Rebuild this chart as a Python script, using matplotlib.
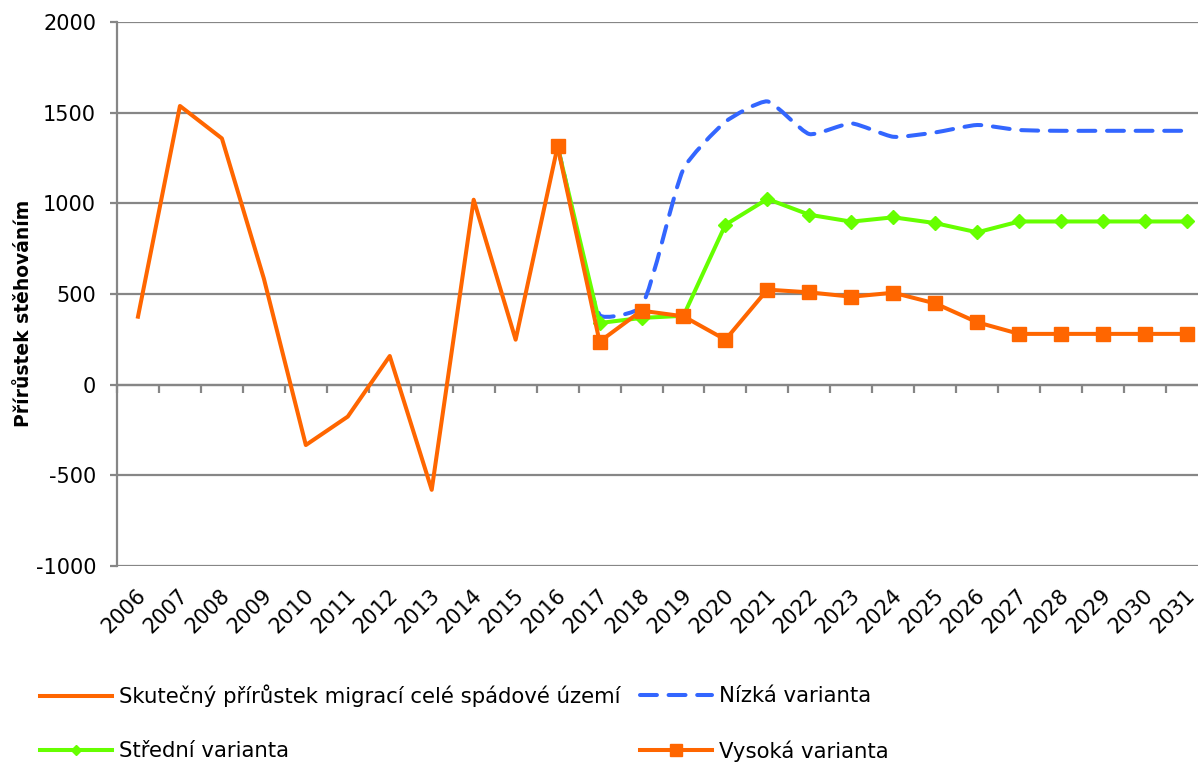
import matplotlib
matplotlib.use("Agg")
import matplotlib.pyplot as plt
import matplotlib.transforms as mtrans
from matplotlib.path import Path
from matplotlib.patches import PathPatch
from matplotlib.lines import Line2D
import numpy as np

years = [str(y) for y in range(2006, 2032)]
actual_years = years[:11]
actual = [375, 1537, 1358, 585, -333, -176, 158, -580, 1020, 248, 1314]
proj_years = years[10:]
nizka = [1314, 385, 430, 1190, 1450, 1562, 1382, 1441, 1367, 1391, 1432, 1404, 1400, 1400, 1400, 1400]
stredni = [1314, 340, 368, 380, 882, 1024, 937, 899, 923, 891, 840, 900, 900, 900, 900, 900]
vysoka = [1314, 237, 408, 377, 248, 524, 509, 485, 507, 448, 344, 280, 280, 280, 280, 280]

labels = ["Skutečný přírůstek migrací celé spádové území", "Nízká varianta",
          "Střední varianta", "Vysoká varianta"]
yticks = [-1000, -500, 0, 500, 1000, 1500, 2000]

plt.rcParams['font.family'] = ['DejaVu Sans']
W, H = 1198, 764
fig = plt.figure(figsize=(W / 100, H / 100), dpi=100)
left, right, top, bottom = 117, 1208, 22, 566
ax = fig.add_axes([left / W, 1 - bottom / H, (right - left) / W, (bottom - top) / H])

x_all = np.arange(len(years))
idx = {y: i for i, y in enumerate(years)}
xa = [idx[y] for y in actual_years]
xp = [idx[y] for y in proj_years]

orange = '#FF6600'
blue = '#3366FF'
green = '#66FF00'
grid_c = '#868686'
LW = 2.9
DASH = (0, (4.2, 2.9))
TENSION = 0.55

ax.set_xlim(-0.5, len(years) - 0.5)
ax.set_ylim(-1000, 2000)


def smooth_path(xs, ys):
    """Smoothed line (chord-scaled Catmull-Rom Bezier) through the data points, built in display space."""
    pts = ax.transData.transform(np.column_stack([np.asarray(xs, float), np.asarray(ys, float)]))
    n = len(pts)
    d = np.hypot(*np.diff(pts, axis=0).T)
    verts = [pts[0]]
    codes = [Path.MOVETO]
    for i in range(n - 1):
        p1, p2 = pts[i], pts[i + 1]
        if i > 0:
            c1 = p1 + TENSION * (p2 - pts[i - 1]) / 3.0 * d[i] / (d[i - 1] + d[i])
        else:
            c1 = p1 + (p2 - p1) / 3.0
        if i + 2 < n:
            c2 = p2 - TENSION * (pts[i + 2] - p1) / 3.0 * d[i] / (d[i] + d[i + 1])
        else:
            c2 = p2 - (p2 - p1) / 3.0
        verts += [c1, c2, p2]
        codes += [Path.CURVE4] * 3
    verts = ax.transData.inverted().transform(np.array(verts))
    return Path(verts, codes)


ax.plot(xa, actual, color=orange, lw=LW, zorder=3)
pp = PathPatch(smooth_path(xp, nizka), fill=False, edgecolor=blue, lw=LW,
               linestyle=DASH, capstyle='round', zorder=4)
ax.add_patch(pp)
ax.plot(xp, stredni, color=green, lw=LW, marker='D', ms=7, zorder=5)
ax.plot(xp, vysoka, color=orange, lw=LW, marker='s', ms=10, zorder=6)

ax.set_yticks(yticks)
ax.set_yticklabels([str(v) for v in yticks], fontsize=15)
ax.yaxis.grid(True, color=grid_c, lw=1.6, zorder=0)
ax.set_axisbelow(True)
for s in ['top', 'right', 'bottom']:
    ax.spines[s].set_visible(False)
ax.spines['left'].set_color(grid_c)
ax.spines['left'].set_linewidth(1.6)
ax.tick_params(axis='y', length=5, width=1.6, color=grid_c, pad=10)

ax.set_xticks(x_all)
ax.set_xticklabels(years, rotation=45, ha='right', va='center', rotation_mode='anchor', fontsize=15)
ax.tick_params(axis='x', length=0, pad=19)
off = mtrans.ScaledTranslation(5 / 100, 0, fig.dpi_scale_trans)
for lab in ax.get_xticklabels():
    lab.set_transform(lab.get_transform() + off)

sec = ax.secondary_xaxis(0, transform=ax.transData)
sec.set_xticks(np.arange(len(years) + 1) - 0.5)
sec.set_xticklabels([])
sec.tick_params(axis='x', direction='out', length=6, width=1.6, color=grid_c)
sec.spines['bottom'].set_color(grid_c)
sec.spines['bottom'].set_linewidth(1.6)

ax.set_ylabel("Přírůstek stěhováním", fontsize=13.5, fontweight='bold')
ax.yaxis.set_label_coords((33 - left) / (right - left), (bottom - 313) / (bottom - top))

h1 = Line2D([], [], color=orange, lw=LW)
h2 = Line2D([], [], color=blue, lw=LW, ls=DASH, dash_capstyle='round')
h3 = Line2D([], [], color=green, lw=LW, marker='D', ms=5.5)
h4 = Line2D([], [], color=orange, lw=LW, marker='s', ms=8)
entries = [(h1, labels[0], 40, 696), (h2, labels[1], 640, 696),
           (h3, labels[2], 40, 751), (h4, labels[3], 640, 751)]
for h, lab, px, py in entries:
    fig.legend([h], [lab], loc='center left', bbox_to_anchor=(px / W, 1 - py / H),
               frameon=False, fontsize=15.3, handlelength=3.4, handletextpad=0.3,
               borderpad=0, borderaxespad=0)

fig.savefig("out.png", dpi=100)
